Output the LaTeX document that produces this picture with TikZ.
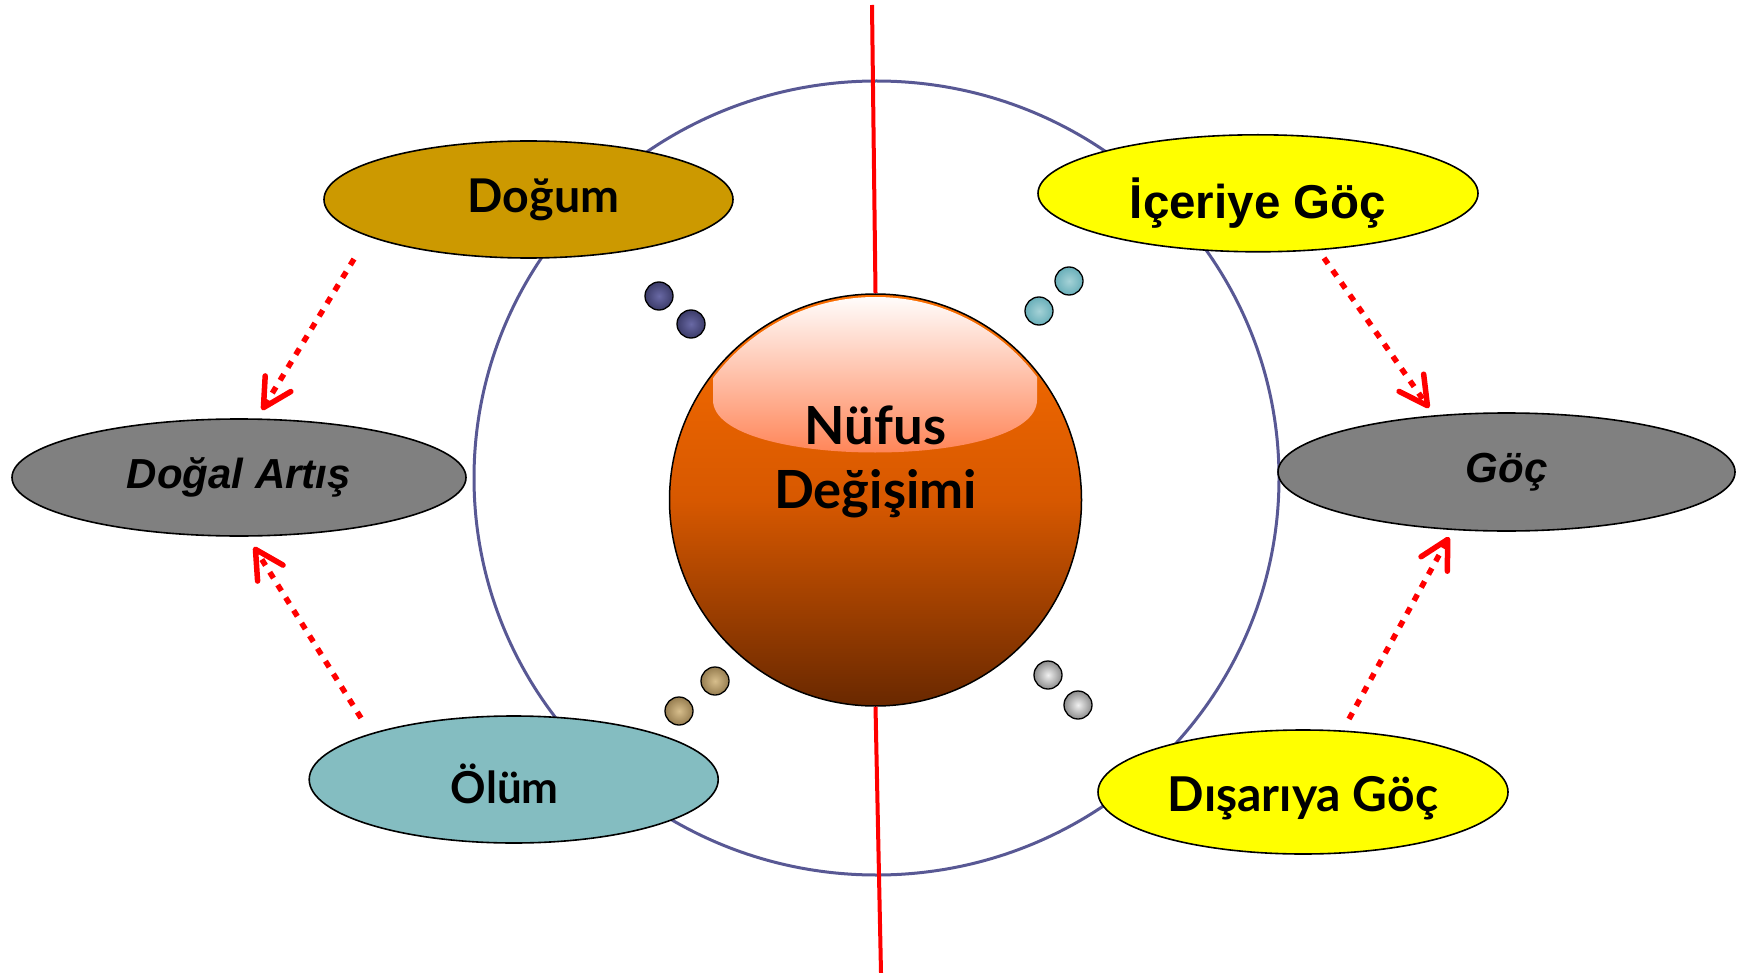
\documentclass[tikz,border=0pt]{standalone}
\usepackage{fontspec}
\usepackage{tikz}
\usetikzlibrary{arrows.meta}
\usetikzlibrary{positioning, shapes.geometric, calc}
\newfontfamily\latofont{Lato}
\newfontfamily\arialfont{Liberation Sans}
\definecolor{orbitblue}{RGB}{88,88,148}
\definecolor{sphtop}{RGB}{250,110,0}
\definecolor{sphmid}{RGB}{215,88,0}
\definecolor{sphbot}{RGB}{105,40,0}
\definecolor{glow}{RGB}{255,120,70}
\definecolor{birth}{RGB}{204,153,0}
\definecolor{netgray}{RGB}{128,128,128}
\definecolor{death}{RGB}{132,189,193}
\definecolor{migr}{RGB}{255,255,0}
\definecolor{navyin}{RGB}{105,105,165}
\definecolor{navyout}{RGB}{60,60,105}
\definecolor{tealin}{RGB}{165,210,215}
\definecolor{tealout}{RGB}{105,175,185}
\definecolor{tanin}{RGB}{215,190,140}
\definecolor{tanout}{RGB}{150,125,80}
\definecolor{greyin}{RGB}{240,240,240}
\definecolor{greyout}{RGB}{140,140,140}

\begin{document}
\begin{tikzpicture}[x=1pt,y=-1pt]
\tikzset{
  bubble/.style={ellipse, draw=black, line width=1.6pt, inner sep=0pt, text=black},
  flow/.style={draw=red, line width=5.5pt, dash pattern=on 7pt off 8pt, -{Straight Barb[length=28pt,width=30pt,round]}},
  redline/.style={draw=red, line width=4pt},
  orbit/.style={draw=orbitblue, line width=3pt}
}

\useasboundingbox (0,0) rectangle (1747,973);

\draw[orbit] (876.5,478) ellipse (402.5 and 397);

\coordinate (T) at (872,5);
\coordinate (U) at (881,973);

\node[circle, draw=black, line width=1.5pt, minimum size=412pt, inner sep=0pt, top color=sphtop, bottom color=sphbot, middle color=sphmid] (N) at (875.5,500) {};
\draw[redline] (T) -- (N.north);
\draw[redline] (N.south) -- (U);

\begin{scope}
\clip (N.center) circle (203);
\shade[top color=white, bottom color=glow] (713,293) -- (713,400) .. controls (713,470) and (1037,470) .. (1037,400) -- (1037,293) -- cycle;
\end{scope}

\node[align=center, text=black, font=\latofont\bfseries\fontsize{52.6}{64}\selectfont] (W) at ($(N.center)+(0,-38.5)$) {Nüfus\\Değişimi};

\foreach \x/\y/\ci/\co in {659/296/navyin/navyout, 691/324/navyin/navyout,
  1069/281/tealin/tealout, 1039/311/tealin/tealout,
  715/681/tanin/tanout, 679/711/tanin/tanout,
  1048/675/greyin/greyout, 1078/705/greyin/greyout}
  \shadedraw[draw=black, line width=1.3pt, inner color=\ci, outer color=\co] (\x,\y) circle (14);

\node[bubble, fill=birth, minimum width=409pt, minimum height=117pt, font=\latofont\bfseries\fontsize{46.5}{56}\selectfont] (D) at (528.5,199.5) {\hspace*{30pt}Doğum};
\node[bubble, fill=netgray, minimum width=454pt, minimum height=117pt, font=\arialfont\bfseries\itshape\fontsize{42}{50}\selectfont] (A) at (239,477.5) {Doğal Artış};
\node[bubble, fill=death, minimum width=409pt, minimum height=127pt, text height=47.6pt, text depth=0pt, font=\latofont\bfseries\fontsize{44}{52}\selectfont] (O) at (513.7,779.5) {Ölüm\hspace*{18pt}};
\node[bubble, fill=migr, minimum width=440pt, minimum height=117pt, text height=60pt, text depth=10pt, font=\arialfont\bfseries\fontsize{47.5}{56}\selectfont] (I) at (1258,193.3) {İçeriye Göç};
\node[bubble, fill=netgray, minimum width=457pt, minimum height=118pt, font=\arialfont\bfseries\itshape\fontsize{42}{50}\selectfont] (G) at (1506.5,472) {Göç};
\node[bubble, fill=migr, minimum width=410pt, minimum height=124pt, text height=48pt, text depth=10pt, font=\latofont\bfseries\fontsize{48}{56}\selectfont] (S) at (1303,792) {Dışarıya Göç};

\draw[flow] ($(D.center)+(-174.5,59.5)$) -- ($(A.center)+(23,-67.5)$);
\draw[flow] ($(O.center)+(-152.7,-61.5)$) -- ($(A.center)+(15,69.5)$);
\draw[flow] ($(I.center)+(66,64.7)$) -- ($(G.center)+(-77.5,-64)$);
\draw[flow] ($(S.center)+(46,-73)$) -- ($(G.center)+(-57.5,65)$);
\end{tikzpicture}
\end{document}
